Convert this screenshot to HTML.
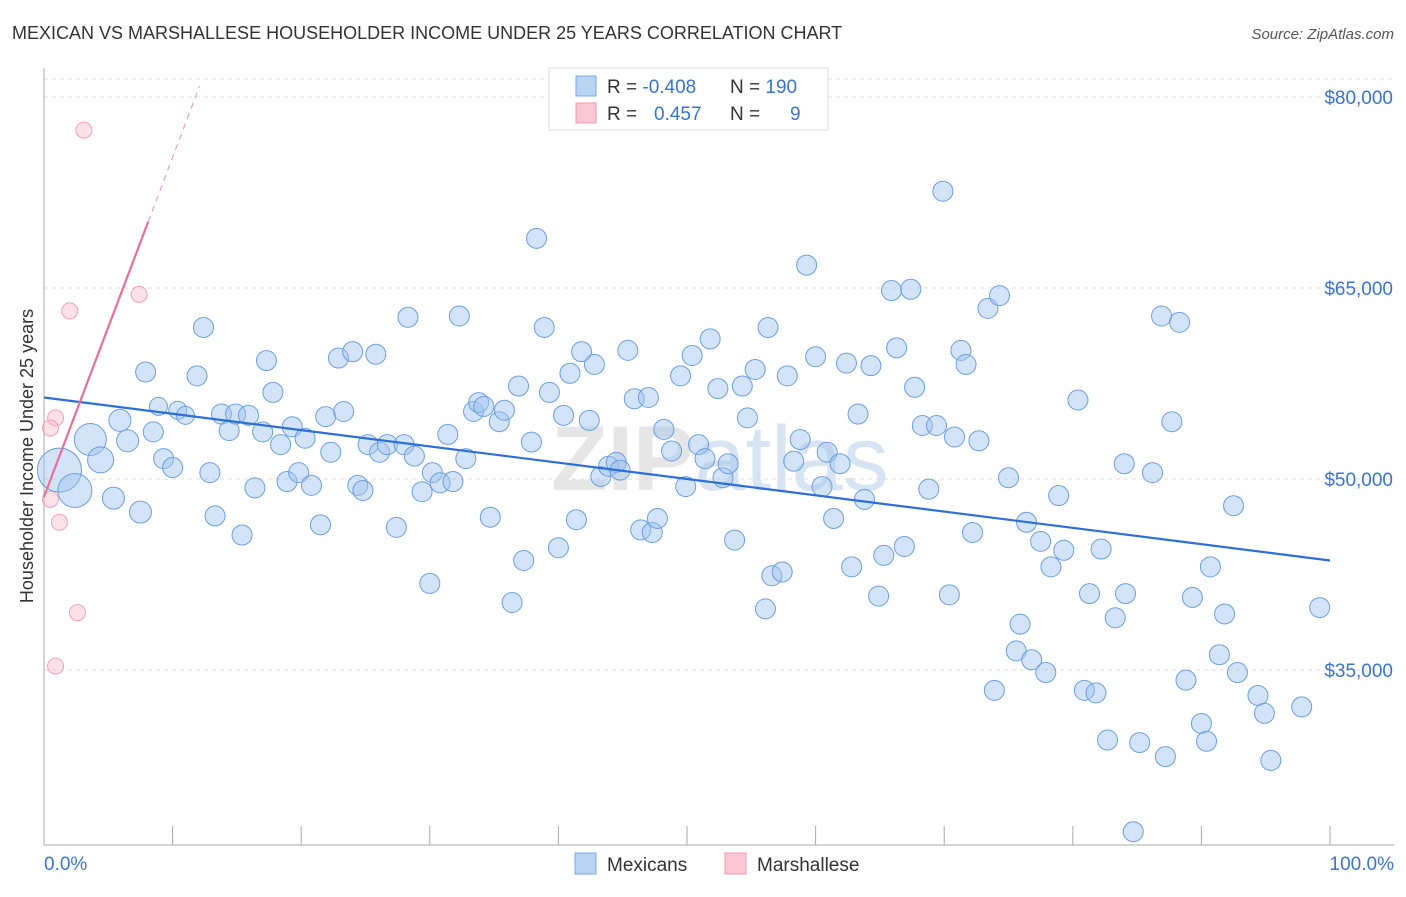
<!DOCTYPE html>
<html><head><meta charset="utf-8"><style>
body{margin:0;background:#fff;font-family:"Liberation Sans",sans-serif;}
svg text{font-family:"Liberation Sans",sans-serif;}
</style></head><body>
<svg id="chart" width="1406" height="892" xmlns="http://www.w3.org/2000/svg">
<text x="12" y="39" font-size="18" fill="#333">MEXICAN VS MARSHALLESE HOUSEHOLDER INCOME UNDER 25 YEARS CORRELATION CHART</text>
<text x="1394" y="39" font-size="15" fill="#555" text-anchor="end" font-style="italic">Source: ZipAtlas.com</text>
<text x="720" y="490" font-size="92" fill="#e6e6e6" text-anchor="middle" font-family="Liberation Serif" font-weight="bold">ZIP<tspan fill="#d6e4f3" font-family="Liberation Sans" font-weight="normal">atlas</tspan></text>
<g id="grid"></g>
<g id="axes"></g>
<g id="marks"></g>
<text transform="translate(33,456) rotate(-90)" font-size="18" fill="#333" text-anchor="middle">Householder Income Under 25 years</text>
<g>
<rect x="549" y="68" width="279" height="62" fill="#fff" stroke="#ddd"/>
<rect x="576" y="76" width="20" height="20" fill="#b9d4f3" stroke="#7aa8e0"/>
<rect x="576" y="103" width="20" height="20" fill="#f9c6d3" stroke="#ee9ab2"/>
<text x="607" y="93" font-size="19" fill="#333">R = <tspan fill="#3a74cf">-0.408</tspan></text>
<text x="730" y="93" font-size="19" fill="#333">N = <tspan fill="#3a74cf">190</tspan></text>
<text x="607" y="120" font-size="19" fill="#333">R = </text><text x="654" y="120" font-size="19" fill="#3a74cf">0.457</text>
<text x="730" y="120" font-size="19" fill="#333">N = </text><text x="790" y="120" font-size="19" fill="#3a74cf">9</text>
</g>
<g>
<rect x="575" y="853" width="21" height="21" fill="#b9d4f3" stroke="#7aa8e0"/>
<text x="607" y="871" font-size="19" fill="#333">Mexicans</text>
<rect x="725" y="853" width="21" height="21" fill="#f9c6d3" stroke="#ee9ab2"/>
<text x="757" y="871" font-size="19" fill="#333">Marshallese</text>
</g>
</svg>
<script>
const yTicks=[35000,50000,65000,80000];
const yTickLabels=["$35,000","$50,000","$65,000","$80,000"];
const xTicks=[0,10,20,30,40,50,60,70,80,90,100];
const mexX=[1.2,3.6,2.4,4.4,5.4,5.9,6.5,7.5,7.9,8.5,8.9,9.3,10.0,10.4,11.0,11.9,12.4,12.9,13.3,13.8,14.4,14.9,15.4,15.9,16.4,17.0,17.3,17.8,18.4,18.9,19.3,19.8,20.3,20.8,21.5,21.9,22.3,22.9,23.3,24.0,24.4,24.8,25.2,25.8,26.1,26.7,27.4,28.0,28.3,28.8,29.4,30.0,30.2,30.8,31.4,31.8,32.3,32.8,33.4,33.8,34.2,34.7,35.4,35.8,36.4,36.9,37.3,37.9,38.3,38.9,39.3,40.0,40.4,40.9,41.4,41.8,42.4,42.8,43.3,43.9,44.5,44.8,45.4,45.9,46.4,47.0,47.3,47.7,48.2,48.8,49.5,49.9,50.4,50.9,51.4,51.8,52.4,52.8,53.2,53.7,54.3,54.7,55.3,56.1,56.3,56.6,57.4,57.8,58.3,58.8,59.3,60.0,60.5,60.9,61.4,61.9,62.4,62.8,63.3,63.8,64.3,64.9,65.3,65.9,66.3,66.9,67.4,67.7,68.3,68.8,69.4,69.9,70.4,70.8,71.3,71.7,72.2,72.7,73.4,73.9,74.3,75.0,75.6,75.9,76.4,76.8,77.5,77.9,78.3,78.9,79.3,80.4,80.9,81.3,81.8,82.2,82.7,83.3,84.1,84.7,85.2,86.2,86.9,87.2,87.7,88.3,88.8,89.3,90.0,90.4,90.7,91.4,91.8,92.5,92.8,94.4,94.9,95.4,97.8,99.2,84.0];
const mexY=[50.7,53.1,49.1,51.5,48.5,54.6,53.0,47.4,58.4,53.7,55.7,51.6,50.9,55.4,55.0,58.1,61.9,50.5,47.1,55.1,53.8,55.1,45.6,55.0,49.3,53.7,59.3,56.8,52.7,49.8,54.1,50.5,53.2,49.5,46.4,54.9,52.1,59.5,55.3,60.0,49.5,49.1,52.7,59.8,52.1,52.7,46.2,52.7,62.7,51.8,49.0,41.8,50.5,49.7,53.5,49.8,62.8,51.6,55.3,56.0,55.7,47.0,54.5,55.4,40.3,57.3,43.6,52.9,68.9,61.9,56.8,44.6,55.0,58.3,46.8,60.0,54.6,59.0,50.2,51.0,51.3,50.7,60.1,56.3,46.0,56.4,45.8,46.9,53.9,52.2,58.1,49.4,59.7,52.7,51.6,61.0,57.1,50.1,51.2,45.2,57.3,54.8,58.6,39.8,61.9,42.4,42.7,58.1,51.4,53.1,66.8,59.6,49.4,52.1,46.9,51.2,59.1,43.1,55.1,48.4,58.9,40.8,44.0,64.8,60.3,44.7,64.9,57.2,54.2,49.2,54.2,72.6,40.9,53.3,60.1,59.0,45.8,53.0,63.4,33.4,64.4,50.1,36.5,38.6,46.6,35.8,45.1,34.8,43.1,48.7,44.4,56.2,33.4,41.0,33.2,44.5,29.5,39.1,41.0,22.3,29.3,50.5,62.8,28.2,54.5,62.3,34.2,40.7,30.8,29.4,43.1,36.2,39.4,47.9,34.8,33.0,31.6,27.9,32.1,39.9,51.2];
const mexSize=[22,16,17,13,11,11,11,11,10,10,9,10,10,9,9,10,10];
const marX=[3.1,7.4,2.0,0.9,0.5,1.2,2.6,0.9,0.5];
const marY=[77.4,64.5,63.2,54.8,54.0,46.6,39.5,35.3,48.4];
const mexTrend=[[0,56.4],[100,43.6]];
const marTrendStart=[0,48.6], marTrendSolidEnd=8.1, marTrendDashEnd=12.1, marSlope=(70.2-48.6)/8.1;

const NS="http://www.w3.org/2000/svg";
const sx=p=>44+p*12.86;
const sy=v=>97+(80-v)*12.733;
function mk(tag,attrs,parent){const e=document.createElementNS(NS,tag);for(const k in attrs)e.setAttribute(k,attrs[k]);parent.appendChild(e);return e;}
const grid=document.getElementById('grid'),axes=document.getElementById('axes'),marks=document.getElementById('marks');
let gl=mk('line',{x1:44,x2:1394,y1:79,y2:79,stroke:'#ddd','stroke-dasharray':'4,4'},grid);


yTicks.forEach((t,i)=>{
  const y=sy(t/1000);
  const l=mk('line',{x1:44,x2:1394,y1:y,y2:y,stroke:'#ddd','stroke-dasharray':'4,4'},grid);
  
  
  const tx=mk('text',{x:1393,y:y+7,'font-size':19,fill:'#3a74cf','text-anchor':'end'},axes);
  tx.textContent=yTickLabels[i];
  
  
});
let ax=mk('line',{x1:44,x2:44,y1:68,y2:845,stroke:'#aaa'},axes);


let bx=mk('line',{x1:44,x2:1394,y1:845,y2:845,stroke:'#aaa'},axes);


xTicks.forEach(t=>{
  const x=sx(t);
  const l=mk('line',{x1:x,x2:x,y1:826,y2:845,stroke:'#aaa'},axes);
  
  
});
let x0=mk('text',{x:44,y:870,'font-size':19,fill:'#3a74cf'},axes);x0.textContent='0.0%';


let x1=mk('text',{x:1394,y:870,'font-size':19,fill:'#3a74cf','text-anchor':'end'},axes);x1.textContent='100.0%';



mexX.forEach((x,i)=>{
  const c=mk('circle',{cx:sx(x),cy:sy(mexY[i]),r:mexSize[i]||10,fill:'rgba(160,196,240,0.45)',stroke:'#6b9fe0','stroke-width':1},marks);
  
  
});
marX.forEach((x,i)=>{
  const c=mk('circle',{cx:sx(x),cy:sy(marY[i]),r:8,fill:'rgba(248,190,205,0.45)',stroke:'#f0a0b8','stroke-width':1},marks);
  
  
});
let mt=mk('line',{x1:sx(mexTrend[0][0]),y1:sy(mexTrend[0][1]),x2:sx(mexTrend[1][0]),y2:sy(mexTrend[1][1]),stroke:'#2d6fd6','stroke-width':2.2},marks);


const mv=x=>marTrendStart[1]+marSlope*x;
let pt=mk('line',{x1:sx(0),y1:sy(mv(0)),x2:sx(marTrendSolidEnd),y2:sy(mv(marTrendSolidEnd)),stroke:'#e8709a','stroke-width':2.2},marks);


let pd=mk('line',{x1:sx(marTrendSolidEnd),y1:sy(mv(marTrendSolidEnd)),x2:sx(marTrendDashEnd),y2:sy(mv(marTrendDashEnd)),stroke:'#f0a0b8','stroke-width':1.2,'stroke-dasharray':'6,5'},marks);


</script>
</body></html>
